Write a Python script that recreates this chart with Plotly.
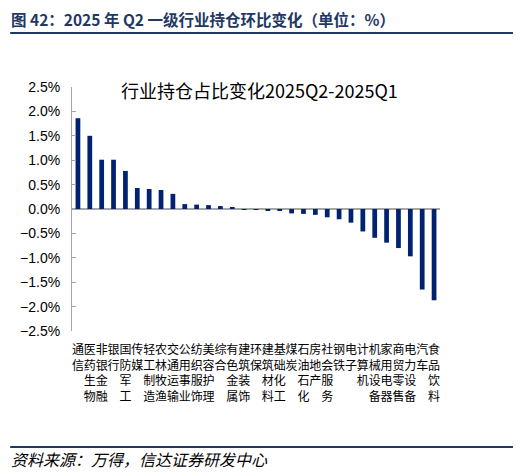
import plotly.graph_objects as go

# 2025Q2 vs 2025Q1 industry position share change (%)
industries = ["通信", "医药生物", "非银金融", "银行", "国防军工", "传媒", "轻工制造",
              "农林牧渔", "交通运输", "公用事业", "纺织服饰", "美容护理", "综合", "有色金属",
              "建筑装饰", "环保", "建筑材料", "基础化工", "煤炭", "石油石化", "房地产",
              "社会服务", "钢铁", "电子", "计算机", "机械设备", "家用电器", "商贸零售",
              "电力设备", "汽车", "食品饮料"]
change = [1.86, 1.50, 1.01, 1.01, 0.78, 0.43, 0.41, 0.39, 0.31, 0.10, 0.09, 0.08,
          0.06, 0.04, -0.01, -0.02, -0.03, -0.03, -0.09, -0.10, -0.12, -0.17, -0.21,
          -0.28, -0.46, -0.59, -0.69, -0.80, -0.97, -1.65, -1.87]
y_ticks = [-2.5, -2.0, -1.5, -1.0, -0.5, 0.0, 0.5, 1.0, 1.5, 2.0, 2.5]

NAVY = "#002270"
HEAD = "#1F3864"
CJK = "Noto Sans CJK SC"

# vertical labels, one character per line
tick_text = ["<br>".join(name) for name in industries]

fig = go.Figure()
fig.add_trace(go.Bar(x=industries, y=change, marker_color=NAVY, marker_line_width=0))

# the page body has an 8px margin, so the figure is 8px smaller each way
fig.update_layout(
    width=513, height=464,
    margin=dict(l=64, r=81, t=79, b=141),
    paper_bgcolor="white", plot_bgcolor="white",
    showlegend=False, bargap=0.6,
    font=dict(family=CJK, color="black"),
)
fig.update_xaxes(
    tickmode="array", tickvals=industries, ticktext=tick_text,
    tickfont=dict(family=CJK, size=12, color="black"),
    tickangle=0, showgrid=False, showline=False, ticks="",
    ticklabelstandoff=10,
)
fig.update_yaxes(
    range=[-2.5, 2.5], tickvals=y_ticks,
    ticktext=[f"{v:.1f}%".replace("-", "\u2212") for v in y_ticks],
    tickfont=dict(family="Liberation Sans", size=14, color="black"),
    showgrid=False, showline=True, linecolor="#A6A6A6", linewidth=1,
    ticks="inside", ticklen=4, tickcolor="#A6A6A6",
    zeroline=True, zerolinecolor="#A6A6A6", zerolinewidth=1.5,
    ticklabelstandoff=8,
)

# header, chart title and footer
fig.add_annotation(x=-0.168, y=1.277, xref="paper", yref="paper", xanchor="left",
                   yanchor="middle", showarrow=False, borderpad=0,
                   text="<b>图 42：2025 年 Q2 一级行业持仓环比变化（单位：%）</b>",
                   font=dict(family=CJK, size=15.5, color=HEAD))
fig.add_shape(type="line", xref="paper", yref="paper", x0=-0.168, x1=1.202,
              y0=1.221, y1=1.221, line=dict(color=HEAD, width=2))
fig.add_annotation(x=0.51, y=1.049, xref="paper", yref="paper", showarrow=False,
                   text="行业持仓占比变化2025Q2-2025Q1",
                   font=dict(family=CJK, size=18, color="black"))
fig.add_shape(type="line", xref="paper", yref="paper", x0=-0.168, x1=1.202,
              y0=-0.475, y1=-0.475, line=dict(color=HEAD, width=2))
fig.add_annotation(x=-0.168, y=-0.525, xref="paper", yref="paper", xanchor="left",
                   yanchor="middle", showarrow=False, borderpad=0,
                   text="<i>资料来源：万得，信达证券研发中心</i>",
                   font=dict(family=CJK, size=16, color="black"))

fig.write_html("out.html")
